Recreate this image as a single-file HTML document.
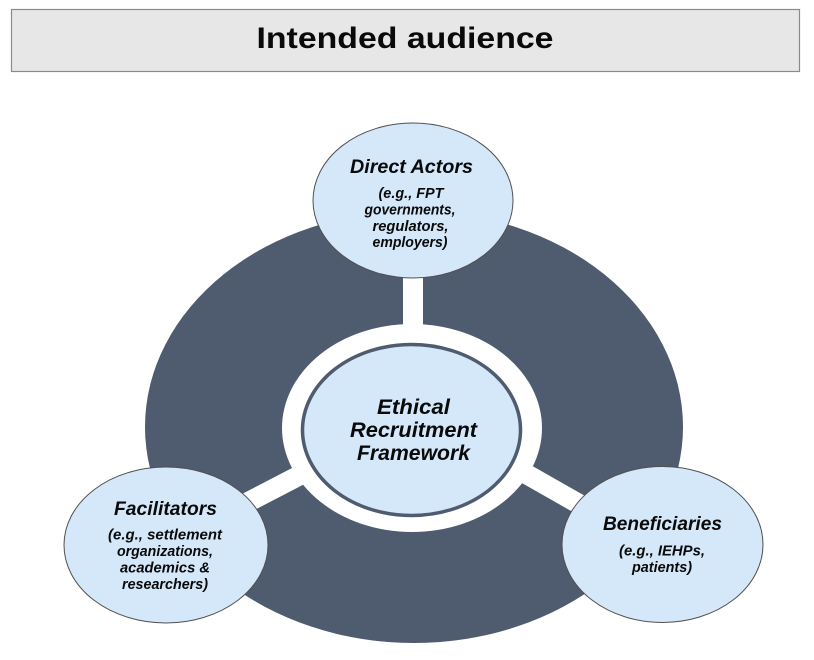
<!DOCTYPE html>
<html>
<head>
<meta charset="utf-8">
<style>
  html, body { margin: 0; padding: 0; background: #ffffff; }
  body { width: 814px; height: 660px; overflow: hidden; }
  svg { display: block; }
  text { font-family: "Liberation Sans", Arial, sans-serif; fill: #0a0a0a; }
  .h { font-weight: bold; font-style: italic; font-size: 19px; }
  .s { font-weight: bold; font-style: italic; font-size: 15px; }
  .c { font-weight: bold; font-style: italic; font-size: 21px; }
</style>
</head>
<body>
<svg width="814" height="660" viewBox="0 0 814 660" xmlns="http://www.w3.org/2000/svg">
  <!-- Title bar -->
  <rect x="11.5" y="9.5" width="788" height="62" fill="#e7e7e7" stroke="#8a8a8a" stroke-width="1.2"/>
  <text x="405" y="48" text-anchor="middle" font-weight="bold" font-size="30" textLength="297" lengthAdjust="spacingAndGlyphs">Intended audience</text>

  <!-- Large dark ellipse -->
  <ellipse cx="414" cy="427" rx="269" ry="216" fill="#4f5b6e"/>

  <!-- White connectors -->
  <line x1="413" y1="200" x2="413" y2="430" stroke="#ffffff" stroke-width="20"/>
  <line x1="200" y1="527" x2="360" y2="444" stroke="#ffffff" stroke-width="20"/>
  <line x1="470" y1="442" x2="630" y2="533" stroke="#ffffff" stroke-width="20"/>

  <!-- White ring -->
  <ellipse cx="412" cy="428" rx="130" ry="104" fill="#ffffff"/>
  <!-- Center ellipse -->
  <ellipse cx="411.5" cy="430" rx="109" ry="85.5" fill="#d5e8fa" stroke="#4f5b6e" stroke-width="3.5"/>
  <text class="c" x="413.5" y="414" text-anchor="middle" textLength="73" lengthAdjust="spacingAndGlyphs">Ethical</text>
  <text class="c" x="413.5" y="437" text-anchor="middle" textLength="127" lengthAdjust="spacingAndGlyphs">Recruitment</text>
  <text class="c" x="413.5" y="460" text-anchor="middle" textLength="113" lengthAdjust="spacingAndGlyphs">Framework</text>

  <!-- Direct Actors node -->
  <ellipse cx="413" cy="200.5" rx="100" ry="77.5" fill="#d5e8fa" stroke="#505050" stroke-width="1"/>
  <text class="h" x="411.5" y="173" text-anchor="middle" textLength="123" lengthAdjust="spacingAndGlyphs">Direct Actors</text>
  <text class="s" x="411" y="198" text-anchor="middle" textLength="65" lengthAdjust="spacingAndGlyphs">(e.g., FPT</text>
  <text class="s" x="410" y="214.5" text-anchor="middle" textLength="91" lengthAdjust="spacingAndGlyphs">governments,</text>
  <text class="s" x="410.5" y="231" text-anchor="middle" textLength="76" lengthAdjust="spacingAndGlyphs">regulators,</text>
  <text class="s" x="410" y="247" text-anchor="middle" textLength="75" lengthAdjust="spacingAndGlyphs">employers)</text>

  <!-- Facilitators node -->
  <ellipse cx="166" cy="545" rx="102" ry="78" fill="#d5e8fa" stroke="#505050" stroke-width="1"/>
  <text class="h" x="165.5" y="515" text-anchor="middle" textLength="103" lengthAdjust="spacingAndGlyphs">Facilitators</text>
  <text class="s" x="165" y="539.5" text-anchor="middle" textLength="114" lengthAdjust="spacingAndGlyphs">(e.g., settlement</text>
  <text class="s" x="165" y="556" text-anchor="middle" textLength="96" lengthAdjust="spacingAndGlyphs">organizations,</text>
  <text class="s" x="165" y="572.5" text-anchor="middle" textLength="90" lengthAdjust="spacingAndGlyphs">academics &amp;</text>
  <text class="s" x="165" y="589" text-anchor="middle" textLength="86" lengthAdjust="spacingAndGlyphs">researchers)</text>

  <!-- Beneficiaries node -->
  <ellipse cx="662.5" cy="544.5" rx="100.5" ry="78" fill="#d5e8fa" stroke="#505050" stroke-width="1"/>
  <text class="h" x="662.5" y="530" text-anchor="middle" textLength="119" lengthAdjust="spacingAndGlyphs">Beneficiaries</text>
  <text class="s" x="662" y="555.5" text-anchor="middle" textLength="86" lengthAdjust="spacingAndGlyphs">(e.g., IEHPs,</text>
  <text class="s" x="662" y="572" text-anchor="middle" textLength="60" lengthAdjust="spacingAndGlyphs">patients)</text>
</svg>
</body>
</html>
